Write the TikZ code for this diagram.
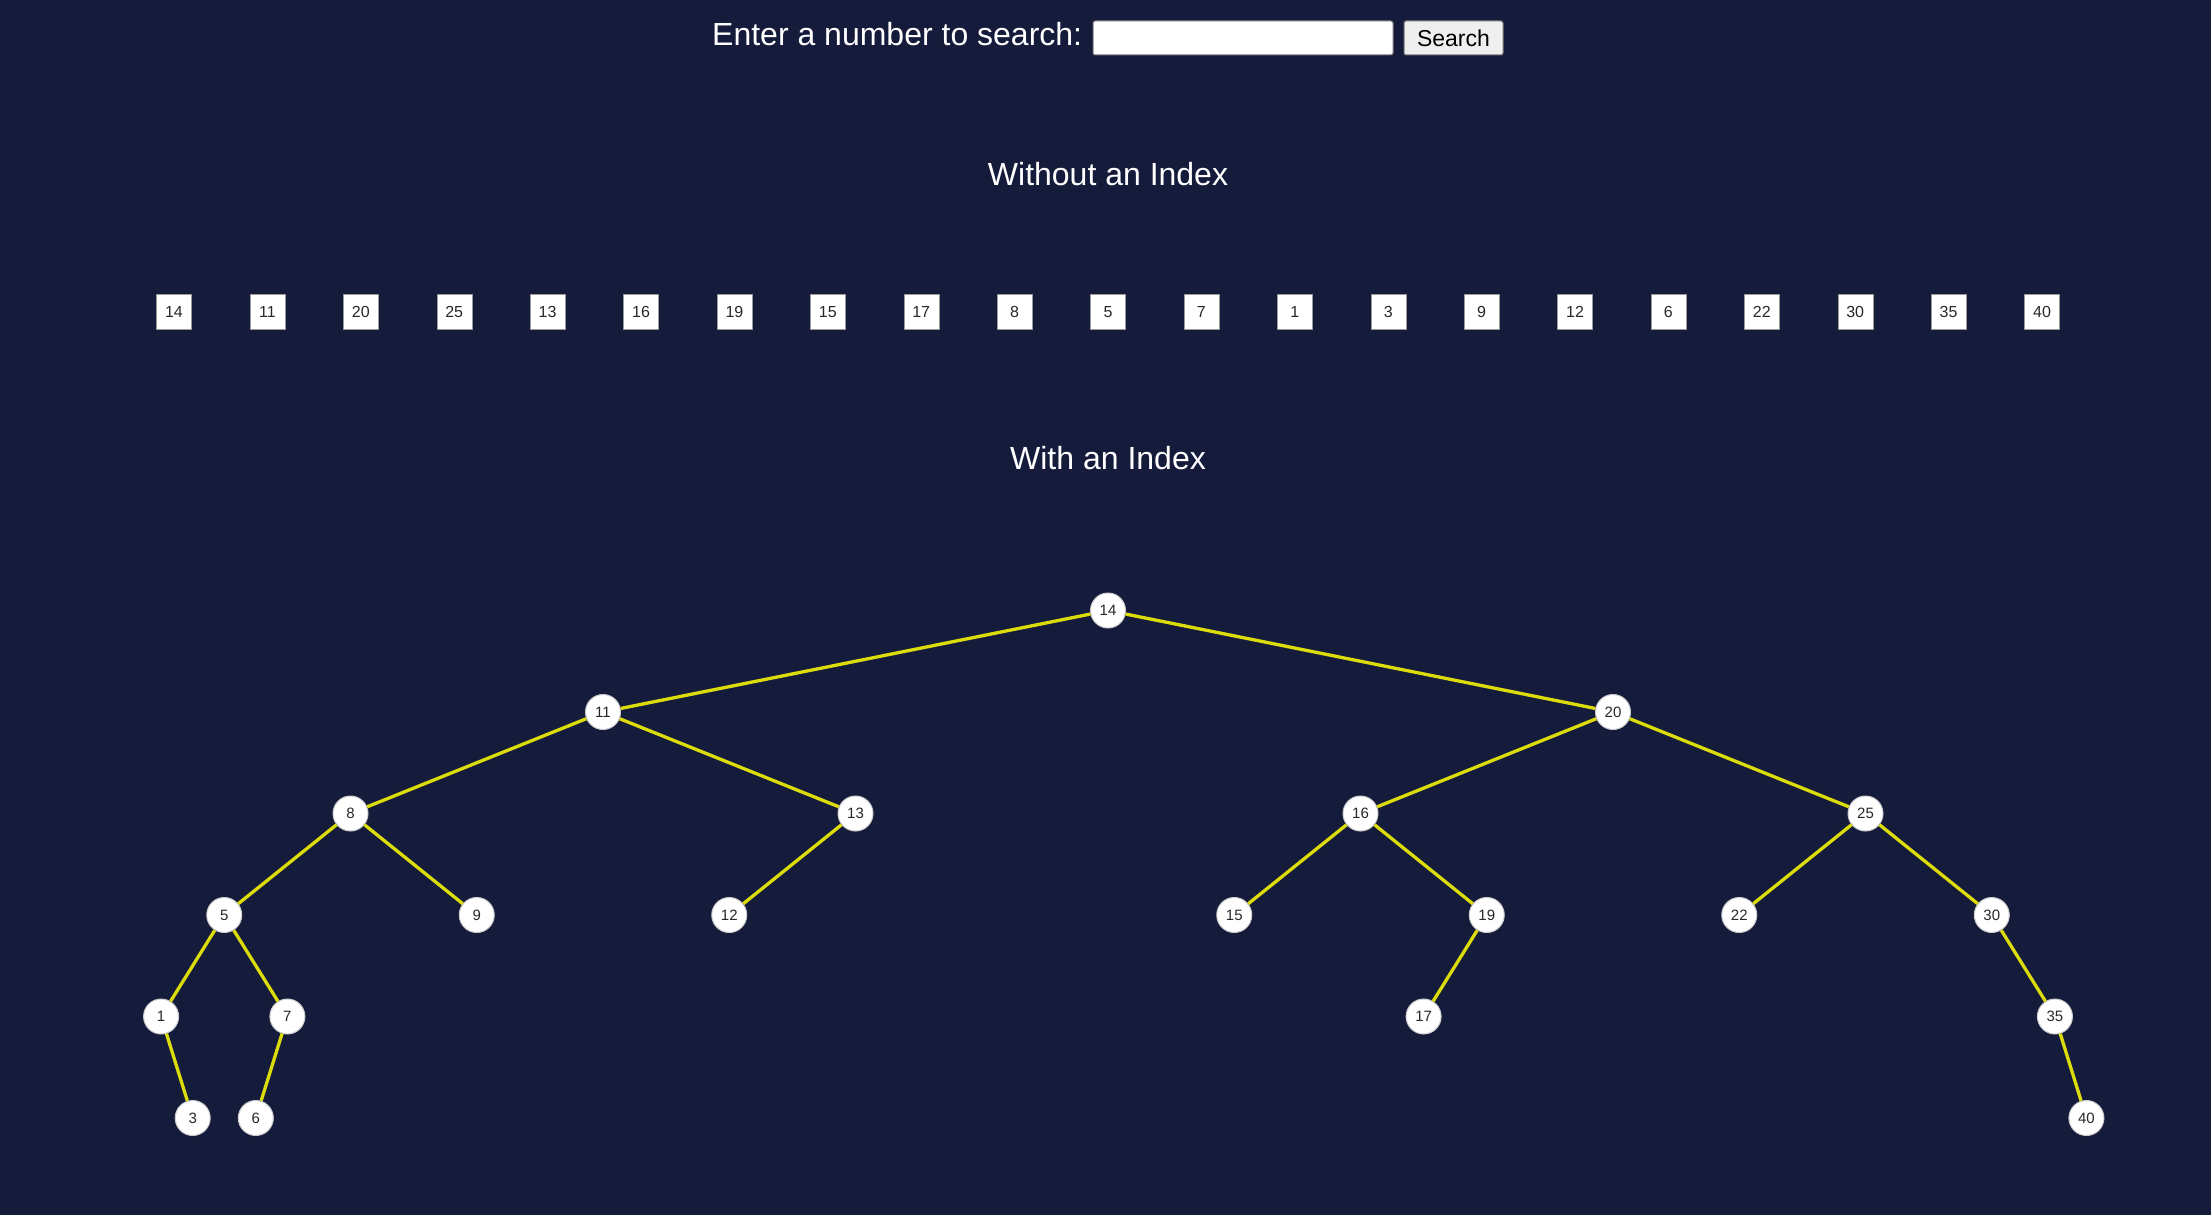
\documentclass[tikz,border=0pt]{standalone}
\usepackage{fontspec}
\setmainfont{Liberation Sans}
\definecolor{bgc}{RGB}{21,27,58}
\definecolor{edgec}{RGB}{220,220,10}
\definecolor{frame}{RGB}{118,118,118}
\definecolor{btn}{RGB}{239,239,239}
\definecolor{txt}{RGB}{40,40,40}
\tikzset{
  heading/.style={text=white, font=\fontsize{32}{36}\selectfont, inner sep=0pt},
  cell/.style={draw=black!40, fill=white, minimum width=35pt, minimum height=35pt, inner sep=0pt, text=txt, font=\fontsize{16}{16}\selectfont},
  tnode/.style={circle, draw=black!20, line width=1pt, fill=white, minimum size=35pt, inner sep=0pt, text=txt, font=\fontsize{15}{15}\selectfont},
  link/.style={draw=edgec, line width=3.3pt},
  field/.style={draw=frame, fill=white, rounded corners=2pt, line width=1pt, minimum width=300pt, minimum height=34pt, inner sep=0pt},
  button/.style={draw=frame, fill=btn, rounded corners=2pt, line width=1pt, minimum width=99pt, minimum height=34pt, inner sep=0pt, text=black, font=\fontsize{23}{23}\selectfont}
}
\begin{document}
\begin{tikzpicture}[x=1pt,y=-1pt]
\fill[bgc] (0,0) rectangle (2211,1215);
\useasboundingbox (0,0) rectangle (2211,1215);
% search bar
\node[heading, anchor=base west] (prompt) at (712,46) {Enter a number to search:};
\node[field] (input) at (1243,38) {};
\node[button] (search) at (1453.5,38) {Search};
% headings
\node[heading] (h1) at (1108,174) {Without an Index};
\node[heading] (h2) at (1108,458) {With an Index};
% unindexed row
\foreach \v [count=\i from 0] in {14,11,20,25,13,16,19,15,17,8,5,7,1,3,9,12,6,22,30,35,40}
  \node[cell] (c\i) at ({1108+(\i-10)*93.4},312) {\v};
% tree nodes
\node[tnode] (n14) at (1108,610.5) {14};
\node[tnode] (n11) at (603,712) {11};
\node[tnode] (n20) at (1613,712) {20};
\node[tnode] (n8) at (350.5,813.5) {8};
\node[tnode] (n13) at (855.5,813.5) {13};
\node[tnode] (n16) at (1360.5,813.5) {16};
\node[tnode] (n25) at (1865.5,813.5) {25};
\node[tnode] (n5) at (224.25,915) {5};
\node[tnode] (n9) at (476.75,915) {9};
\node[tnode] (n12) at (729.25,915) {12};
\node[tnode] (n15) at (1234.25,915) {15};
\node[tnode] (n19) at (1486.75,915) {19};
\node[tnode] (n22) at (1739.25,915) {22};
\node[tnode] (n30) at (1991.75,915) {30};
\node[tnode] (n1) at (161.1,1016.5) {1};
\node[tnode] (n7) at (287.4,1016.5) {7};
\node[tnode] (n17) at (1423.6,1016.5) {17};
\node[tnode] (n35) at (2054.9,1016.5) {35};
\node[tnode] (n3) at (192.7,1118) {3};
\node[tnode] (n6) at (255.8,1118) {6};
\node[tnode] (n40) at (2086.4,1118) {40};
% edges
\foreach \a/\b in {14/11,14/20,11/8,11/13,20/16,20/25,8/5,8/9,13/12,16/15,16/19,25/22,25/30,5/1,5/7,19/17,30/35,1/3,7/6,35/40}
  \draw[link] (n\a) -- (n\b);
\end{tikzpicture}
\end{document}
